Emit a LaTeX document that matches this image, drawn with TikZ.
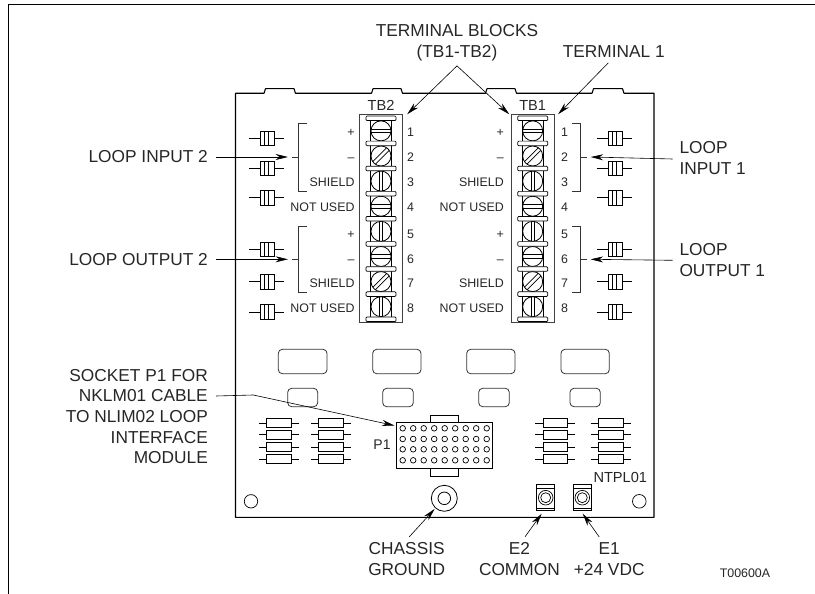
\documentclass[tikz,border=0pt]{standalone}
\usepackage{fontspec}
\setmainfont{Liberation Sans}
\usetikzlibrary{arrows.meta, positioning}

\begin{document}
\begin{tikzpicture}[
			x=1pt, y=-1pt,
			biglabel/.style={font=\fontsize{17.3}{20.7}\selectfont, text=black!85, inner sep=0, align=center},
			midlabel/.style={font=\fontsize{14.6}{17}\selectfont, text=black!85, inner sep=0},
			smalllabel/.style={font=\fontsize{12.4}{15}\selectfont, text=black!85, inner sep=0, text height=9pt, text depth=0pt},
			arrow/.style={-{Stealth[length=12.5pt, width=6pt]}, line width=0.6pt},
			block/.style={draw=black!75, line width=0.9pt, minimum width=43.4pt, minimum height=208pt, inner sep=0},
			outline/.style={line width=1.1pt, line join=round},
			pad/.style={draw=black!80, line width=0.8pt, rounded corners=4pt},
			pics/capa/.style={code={
				\draw [line width=1pt] (-18,0) -- (-7,0) (7,0) -- (17,0);
				\draw [line width=0.7pt] (-7,-7.3) rectangle (7,7.3) (-2.5,-7.3) -- (-2.5,7.3) (1.5,-7.3) -- (1.5,7.3);
			}},
			pics/resist/.style={code={
				\draw [line width=1pt] (-20,0) -- (20,0);
				\draw [line width=0.7pt, fill=white] (-12.3,-4.6) rectangle (12.3,4.6);
			}},
			pics/screw/.style={code={
				\begin{scope}
					\clip (-10.3,-10.6) rectangle (10.3,10.6);
					\draw [line width=0.8pt] (0,0) circle (10pt);
					\begin{scope}[rotate=#1]
						\draw [line width=0.7pt] (-10,-1.8) -- (10,-1.8) (-10,1.8) -- (10,1.8);
					\end{scope}
				\end{scope}
			}}
			]

			% Frame and board
			\useasboundingbox (0,0) rectangle (815,594);
			\draw [line width=1.2pt] (815,4.5) -- (8.3,4.5) -- (8.3,594);
			\draw [outline] (235.5,517.3) -- (235.5,93.3) -- (264,93.3) -- (265.5,88.7) -- (294,88.7) -- (295.5,93.3)
				-- (371.5,93.3) -- (373,88.7) -- (401,88.7) -- (402.5,93.3)
				-- (485.5,93.3) -- (487,88.7) -- (515,88.7) -- (516.5,93.3)
				-- (592,93.3) -- (593.5,88.7) -- (622.5,88.7) -- (624,93.3)
				-- (654,93.3) -- (654,517.3) -- cycle;

			% Terminal blocks
			\foreach \tb/\cx/\lx/\nx in {2/381/354.7/407, 1/532.7/504/561} {
				\node (tb\tb) [block] at (\cx,218.7) {};
				\node (tbname\tb) [midlabel, above=3.5pt of tb\tb] {TB\tb};
				\draw [line width=1pt] (\cx-10.3,118) -- (\cx-10.3,319.3) (\cx+10.3,118) -- (\cx+10.3,319.3);
				\foreach \n/\slot in {1/0, 2/45, 3/90, 4/0, 5/90, 6/0, 7/45, 8/90}
					\pic at (\cx,118.3+25.12*\n-12.56) {screw=\slot};
				\foreach \n in {0,...,8}
					\draw [line width=0.7pt, fill=white, rounded corners=1pt] (\cx-15,116+25.12*\n) rectangle (\cx+15,120.6+25.12*\n);
				\foreach \n/\yy/\txt in {1/132/+, 2/157/--, 3/181.5/SHIELD, 4/207/NOT USED, 5/234/+, 6/258.7/--, 7/283/SHIELD, 8/308/NOT USED} {
					\node (pin\tb\n) [smalllabel, anchor=east] at (\lx,\yy) {\txt};
					\node (num\tb\n) [smalllabel, anchor=west] at (\nx,\yy) {\n};
				}
			}

			% Brackets
			\foreach \top/\mid/\bot in {123.3/157/191.7, 226.7/259.3/292} {
				\draw [line width=0.7pt, draw=black!80] (307.3,\top) -- (298.3,\top) -- (298.3,\bot) -- (307.3,\bot) (298.3,\mid) -- (291.7,\mid);
				\draw [line width=0.7pt, draw=black!80] (571.7,\top) -- (580.7,\top) -- (580.7,\bot) -- (571.7,\bot) (580.7,\mid) -- (587.3,\mid);
			}
			\coordinate (inTwoTip) at (288,157);
			\coordinate (outTwoTip) at (288,259.3);
			\coordinate (inOneTip) at (590.7,157);
			\coordinate (outOneTip) at (590.7,259.3);

			% Capacitors
			\foreach \yy in {138.3, 168.3, 197.7, 249.3, 281.7, 312} {
				\pic at (267.3,\yy) {capa};
				\pic at (615,\yy) {capa};
			}

			% Pads
			\foreach \xa/\xb in {278.3/327, 372.7/421, 466.7/515, 561/609.3}
				\draw [pad] (\xa,349.3) rectangle (\xb,373.7);
			\foreach \xa/\xb in {287.7/317.7, 382.7/413.3, 478.7/509.3, 570/600.3}
				\draw [pad] (\xa,388.3) rectangle (\xb,406.7);

			% Resistors
			\foreach \xx in {278.8, 331, 555.3, 610.7}
				\foreach \yy in {423, 434.7, 447, 459}
					\pic at (\xx,\yy) {resist};

			% Socket P1
			\node (socket) [draw, line width=0.9pt, minimum width=96.4pt, minimum height=46pt, inner sep=0] at (444.5,445.3) {};
			\draw [line width=0.8pt] (socket.north) ++(-14,0) -- ++(0,-6.6) -- ++(28,0) -- ++(0,6.6);
			\draw [line width=0.8pt] (socket.south) ++(-14,0) -- ++(0,7.4) -- ++(28,0) -- ++(0,-7.4);
			\foreach \yy in {428.3, 439, 449.3, 460.3}
				\foreach \n in {0,...,8}
					\draw [line width=0.7pt] (402.7+10.5*\n,\yy) circle (2.8pt);
			\node (socketname) [midlabel, font=\fontsize{14}{17}\selectfont] at (382,445) {P1};

			% Holes and studs
			\node (holeleft) [draw, circle, line width=0.7pt, minimum size=13.4pt, inner sep=0] at (251,501.3) {};
			\node (holeright) [draw, circle, line width=0.7pt, minimum size=13.6pt, inner sep=0] at (639.3,501.3) {};
			\node (chassis) [draw, circle, line width=0.8pt, minimum size=26pt, inner sep=0] at (444.3,498.3) {};
			\draw [line width=0.8pt] (chassis.center) circle (6.3pt);
			\foreach \e/\cx in {e2/545.7, e1/582.3} {
				\node (\e) [draw, line width=0.8pt, minimum width=18pt, minimum height=26.4pt, inner sep=0] at (\cx,497.5) {};
				\draw [line width=0.7pt] (\cx-9,488.3) -- (\cx+9,488.3) (\cx-9,508.3) -- (\cx+9,508.3);
				\draw [line width=0.7pt] (\cx,497.7) circle (7.3pt) (\cx,497.7) circle (5pt);
			}
			\node (board) [midlabel] at (620.3,477.7) {NTPL01};

			% Labels
			\node (blockslabel) [biglabel] at (457,43) {TERMINAL BLOCKS\\(TB1-TB2)};
			\node (terminallabel) [biglabel] at (613.8,51.7) {TERMINAL 1};
			\node (inTwoLabel) [biglabel, anchor=east] at (208,157) {LOOP INPUT 2};
			\node (outTwoLabel) [biglabel, anchor=east] at (208,259.3) {LOOP OUTPUT 2};
			\node (inOneLabel) [biglabel, anchor=west, align=left] at (679.3,158) {LOOP\\INPUT 1};
			\node (outOneLabel) [biglabel, anchor=west, align=left] at (679.3,259.8) {LOOP\\OUTPUT 1};
			\node (socketlabel) [biglabel, anchor=east, align=right] at (208,416.5) {SOCKET P1 FOR\\NKLM01 CABLE\\TO NLIM02 LOOP\\INTERFACE\\MODULE};
			\node (chassislabel) [biglabel] at (406.7,559) {CHASSIS\\GROUND};
			\node (commonlabel) [biglabel] at (519.4,559) {E2\\COMMON};
			\node (supplylabel) [biglabel] at (609.2,559) {E1\\+24 VDC};
			\node (figlabel) [smalllabel] at (745,573.3) {T00600A};

			% Connections
			\draw [arrow] ([yshift=-4.5pt]blockslabel.south) -- ([xshift=4pt]tb2.north east);
			\draw [arrow] ([yshift=-4.5pt]blockslabel.south) -- ([xshift=-1.3pt]tb1.north west);
			\draw [arrow] ([xshift=-5.5pt,yshift=-5pt]terminallabel.south) -- ([xshift=3.3pt]tb1.north east);
			\draw [arrow] ([xshift=8pt]inTwoLabel.east) -- (inTwoTip);
			\draw [arrow] ([xshift=8pt]outTwoLabel.east) -- (outTwoTip);
			\draw [arrow] ([xshift=-6.6pt,yshift=-1pt]inOneLabel.west) -- (inOneTip);
			\draw [arrow] ([xshift=-6.6pt,yshift=-0.5pt]outOneLabel.west) -- (outOneTip);
			\draw [arrow] ([xshift=8pt,yshift=20.5pt]socketlabel.east) -- ([xshift=45.3pt,yshift=21.5pt]socketlabel.east) -- ([xshift=-1.3pt,yshift=-3.7pt]socket.north west);
			\draw [arrow, shorten >=1pt] ([xshift=2.6pt,yshift=5.5pt]chassislabel.north) -- (chassis);
			\draw [arrow] ([xshift=5.6pt,yshift=5.5pt]commonlabel.north) -- ([xshift=-4pt,yshift=-2.6pt]e2.south);
			\draw [arrow] ([xshift=-10pt,yshift=5.5pt]supplylabel.north) -- ([xshift=0.4pt,yshift=-2.6pt]e1.south);

		\end{tikzpicture}
\end{document}
